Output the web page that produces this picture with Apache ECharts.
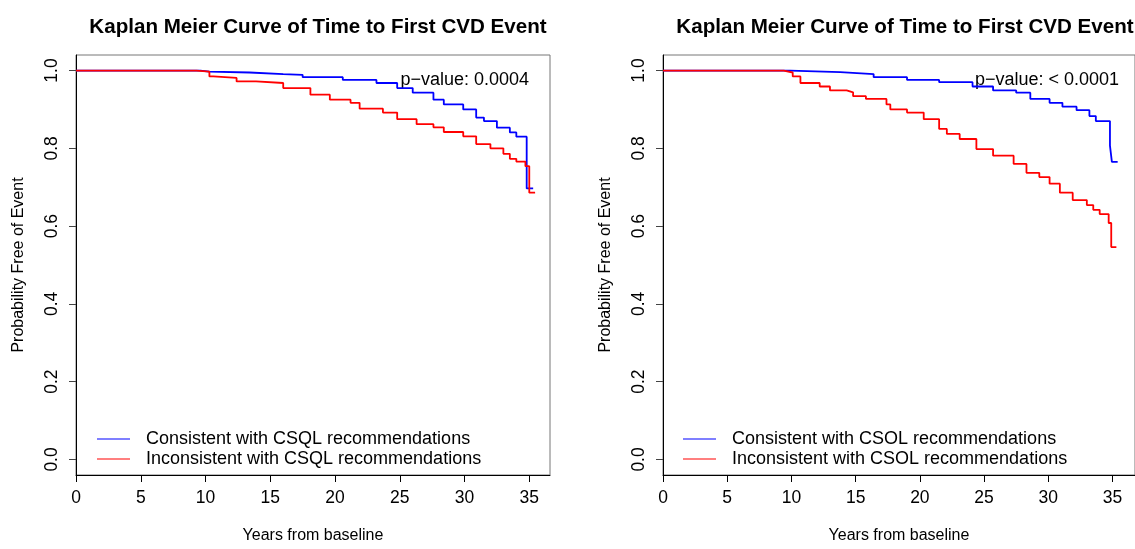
<!DOCTYPE html>
<html>
<head>
<meta charset="utf-8">
<title>Kaplan Meier</title>
<script src="https://cdn.jsdelivr.net/npm/echarts@6/dist/echarts.min.js"></script>
<style>
  html, body { margin: 0; padding: 0; background: #fff; }
  #chart { width: 1135px; height: 549px; }
</style>
</head>
<body>
<div id="chart"></div>
<script>
// 左图 CSQL
const timeBlueL = [0, 9.6, 10.3, 13.4, 16.0, 17.5, 20.6, 23.2, 24.8, 26.0, 27.6, 28.4, 29.9, 30.9, 31.5, 32.5, 33.5, 34.0, 34.8, 35.3];
const survBlueL = [1.0, 0.997, 0.995, 0.991, 0.989, 0.983, 0.976, 0.968, 0.955, 0.943, 0.925, 0.913, 0.900, 0.879, 0.870, 0.853, 0.841, 0.830, 0.697, 0.697];
const timeRedL = [0, 9.3, 10.3, 10.6, 12.4, 13.9, 16.0, 18.1, 19.6, 21.2, 21.9, 23.7, 24.8, 26.3, 27.6, 28.4, 29.9, 30.9, 32.0, 33.0, 33.5, 34.0, 34.7, 35.0, 35.45];
const survRedL = [1.0, 0.997, 0.985, 0.981, 0.972, 0.968, 0.955, 0.938, 0.925, 0.917, 0.902, 0.892, 0.875, 0.862, 0.854, 0.842, 0.831, 0.811, 0.800, 0.786, 0.773, 0.766, 0.754, 0.686, 0.686];

// 右图 CSOL
const timeBlueR = [0, 9.9, 13.8, 16.4, 19.0, 21.5, 24.1, 25.7, 27.5, 28.6, 30.1, 31.1, 32.2, 33.2, 33.7, 34.8, 34.95, 35.4];
const survBlueR = [1.0, 0.996, 0.991, 0.983, 0.976, 0.970, 0.959, 0.949, 0.943, 0.927, 0.917, 0.907, 0.898, 0.883, 0.870, 0.807, 0.765, 0.765];
const timeRedR = [0, 9.4, 10.1, 10.7, 12.2, 13.0, 14.3, 14.8, 15.8, 17.4, 17.7, 19.0, 20.3, 21.5, 22.1, 23.1, 24.4, 25.7, 27.3, 28.3, 29.3, 30.1, 30.9, 31.9, 33.0, 33.5, 34.0, 34.7, 34.9, 35.3];
const survRedR = [1.0, 0.995, 0.985, 0.968, 0.959, 0.949, 0.944, 0.934, 0.927, 0.913, 0.900, 0.892, 0.875, 0.850, 0.837, 0.824, 0.798, 0.781, 0.760, 0.737, 0.726, 0.709, 0.686, 0.667, 0.654, 0.642, 0.631, 0.608, 0.546, 0.546];

const xTicks = [0, 5, 10, 15, 20, 25, 30, 35];
const yTicks = [0, 0.2, 0.4, 0.6, 0.8, 1.0];
const seriesNames = [
  'Consistent with CSQL recommendations',
  'Inconsistent with CSQL recommendations',
  'Consistent with CSOL recommendations',
  'Inconsistent with CSOL recommendations'
];
const pValues = ['p\u2212value: 0.0004', 'p\u2212value: < 0.0001'];
const mainTitle = 'Kaplan Meier Curve of Time to First CVD Event';

const FONT = '"Liberation Sans", Arial, Helvetica, sans-serif';
const pair = (t, s) => t.map((v, i) => [v, s[i]]);

// 右图的框右边刚好在画布外
const grids = [
  { left: 76, top: 55, width: 474, height: 424 },
  { left: 663, top: 55, width: 473, height: 424 }
];
const xMax = [36.6, 36.75];

const makeX = (i) => ({
  type: 'value', gridIndex: i, min: 0, max: xMax[i],
  name: 'Years from baseline', nameLocation: 'middle', nameGap: 53,
  nameTextStyle: { fontFamily: FONT, fontSize: 16, color: '#000' },
  axisLine: { show: true, onZero: false, lineStyle: { color: '#000', width: 1 } },
  axisTick: { show: true, length: 7, customValues: xTicks, lineStyle: { color: '#000' } },
  axisLabel: { customValues: xTicks, fontFamily: FONT, fontSize: 17.5, color: '#000', margin: 14 },
  splitLine: { show: false }
});
const makeY = (i) => ({
  type: 'value', gridIndex: i, min: -0.04, max: 1.04,
  name: 'Probability Free of Event', nameLocation: 'middle', nameGap: 49, nameRotate: 90,
  nameTextStyle: { fontFamily: FONT, fontSize: 16, color: '#000' },
  axisLine: { show: true, onZero: false, lineStyle: { color: '#000', width: 1 } },
  axisTick: { show: true, length: 7, customValues: yTicks, lineStyle: { color: '#444' } },
  axisLabel: { customValues: yTicks, rotate: 90, fontFamily: FONT, fontSize: 17.5, color: '#000', margin: 15,
    formatter: v => v.toFixed(1) },
  splitLine: { show: false }
});

const makeLine = (name, i, data, color) => ({
  name: name, type: 'line', step: 'end', xAxisIndex: i, yAxisIndex: i,
  data: data, showSymbol: false, symbol: 'none', silent: true,
  lineStyle: { color: color, width: 1.8 }, itemStyle: { color: color }
});

const makeLegend = (names, left) => ({
  data: names, orient: 'vertical', left: left, top: 425, itemGap: 2,
  icon: 'rect', itemWidth: 33, itemHeight: 1.2, selectedMode: false,
  textStyle: { fontFamily: FONT, fontSize: 18, color: '#000', padding: [0, 0, 0, 11] }
});

const option = {
  animation: false,
  backgroundColor: '#fff',
  title: [
    { text: mainTitle, left: 313, top: 12, textAlign: 'center',
      textStyle: { fontFamily: FONT, fontSize: 20.6, fontWeight: 'bold', color: '#000' } },
    { text: mainTitle, left: 900, top: 12, textAlign: 'center',
      textStyle: { fontFamily: FONT, fontSize: 20.6, fontWeight: 'bold', color: '#000' } }
  ],
  grid: grids.map(g => Object.assign({ show: true, borderColor: '#777', borderWidth: 1, backgroundColor: 'transparent' }, g)),
  xAxis: [makeX(0), makeX(1)],
  yAxis: [makeY(0), makeY(1)],
  legend: [makeLegend(seriesNames.slice(0, 2), 92), makeLegend(seriesNames.slice(2, 4), 678)],
  graphic: [
    { type: 'text', right: 1135 - 529, top: 71,
      style: { text: pValues[0], font: '18px ' + FONT, fill: '#000' } },
    { type: 'text', right: 1135 - 1119, top: 71,
      style: { text: pValues[1], font: '18px ' + FONT, fill: '#000' } }
  ],
  series: [
    makeLine(seriesNames[0], 0, pair(timeBlueL, survBlueL), '#0000ff'),
    makeLine(seriesNames[1], 0, pair(timeRedL, survRedL), '#ff0000'),
    makeLine(seriesNames[2], 1, pair(timeBlueR, survBlueR), '#0000ff'),
    makeLine(seriesNames[3], 1, pair(timeRedR, survRedR), '#ff0000')
  ]
};

const myChart = echarts.init(document.getElementById('chart'));
myChart.setOption(option);
window.addEventListener('resize', () => myChart.resize());
</script>
</body>
</html>
